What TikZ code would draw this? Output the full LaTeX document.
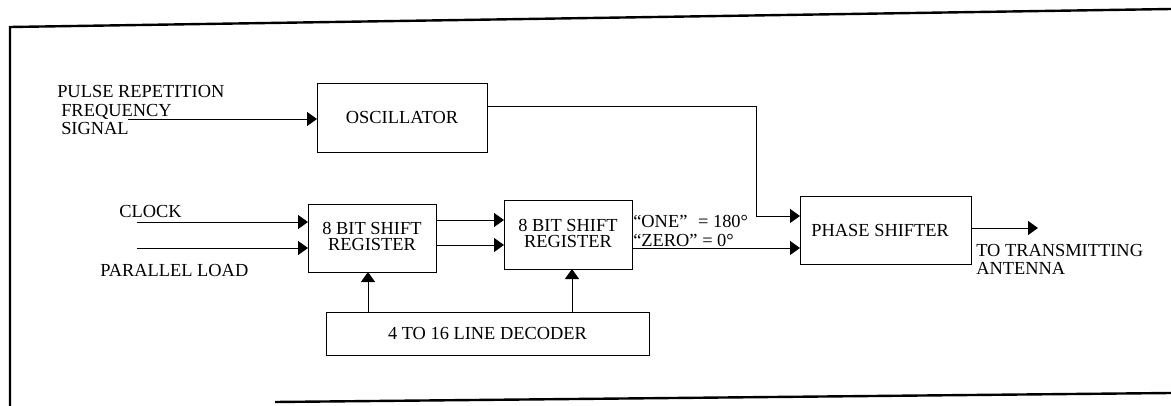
\documentclass[tikz,border=0pt]{standalone}
\usepackage{fontspec}
\setmainfont{Liberation Serif}
\usetikzlibrary{arrows.meta}
\begin{document}
\begin{tikzpicture}[x=0.75pt,y=-0.75pt,
  every node/.style={font=\fontsize{13.8}{13.6}\selectfont},
  blk/.style={draw,line width=0.7pt,inner sep=0pt,outer sep=0pt,align=center},
  lbl/.style={inner sep=0pt,align=left},
  arr/.style={line width=0.7pt,-{Triangle[length=7.5pt,width=10.5pt]}},
  wire/.style={line width=0.7pt},
  frame/.style={line width=1.8pt}]
\useasboundingbox (0,0) rectangle (1171,406);
% frame
\draw[frame] (1171,9) -- (10,27) -- (10,406);
\draw[frame] (275,402) -- (1171,393);
% blocks
\node[blk,minimum width=127.5pt,minimum height=51.75pt] (osc) at (402,117.5) {OSCILLATOR};
\node[blk,minimum width=96pt,minimum height=51pt] (sr1) at (372,238) {\raisebox{2pt}{\shortstack{8 BIT SHIFT\\REGISTER}}};
\node[blk,minimum width=96pt,minimum height=51.75pt] (sr2) at (568,234.5) {\raisebox{2pt}{\shortstack{8 BIT SHIFT\\REGISTER}}};
\node[blk,minimum width=128.25pt,minimum height=51pt] (ps) at (885.5,230) {\hspace*{-8pt}PHASE SHIFTER};
\node[blk,minimum width=242.25pt,minimum height=32.25pt] (dec) at (487.5,333.5) {4 TO 16 LINE DECODER};
% labels
\node[lbl,anchor=west] (prft) at (57,110) {PULSE REPETITION\\\hspace*{3pt}FREQUENCY\\\hspace*{3pt}SIGNAL};
\node[lbl,anchor=west] (clkt) at (119,211) {CLOCK};
\node[lbl,anchor=west] (plt) at (100,270) {PARALLEL LOAD};
\node[lbl,anchor=west] (onet) at (633,221) {“ONE”\hspace{8pt}= 180°};
\node[lbl,anchor=west] (zerot) at (633,240) {“ZERO” = 0°};
\node[lbl,anchor=west] (txt) at (976,259) {TO TRANSMITTING\\ANTENNA};
% free ends
\coordinate (prf) at (128,119);
\coordinate (clk) at (137,222);
\coordinate (pl) at (137,248);
\coordinate (bend) at (756,106);
\coordinate (out) at (1038,228);
% connectors
\draw[arr] (prf) -- (prf -| osc.west);
\draw[arr] (osc.east |- bend) -- (bend) -- (bend |- 0,216) -- (ps.west |- 0,216);
\draw[arr] (clk) -- (clk -| sr1.west);
\draw[arr] (pl) -- (pl -| sr1.west);
\draw[arr] (sr1.east |- 0,220) -- (sr2.west |- 0,220);
\draw[arr] (sr1.east |- 0,245) -- (sr2.west |- 0,245);
\draw[arr] (sr2.east |- 0,248) -- (ps.west |- 0,248);
\draw[arr] (ps.east |- out) -- (out);
\draw[arr] (dec.north -| 368,0) -- (sr1.south -| 368,0);
\draw[arr] (dec.north -| 572,0) -- (sr2.south -| 572,0);
\end{tikzpicture}
\end{document}
